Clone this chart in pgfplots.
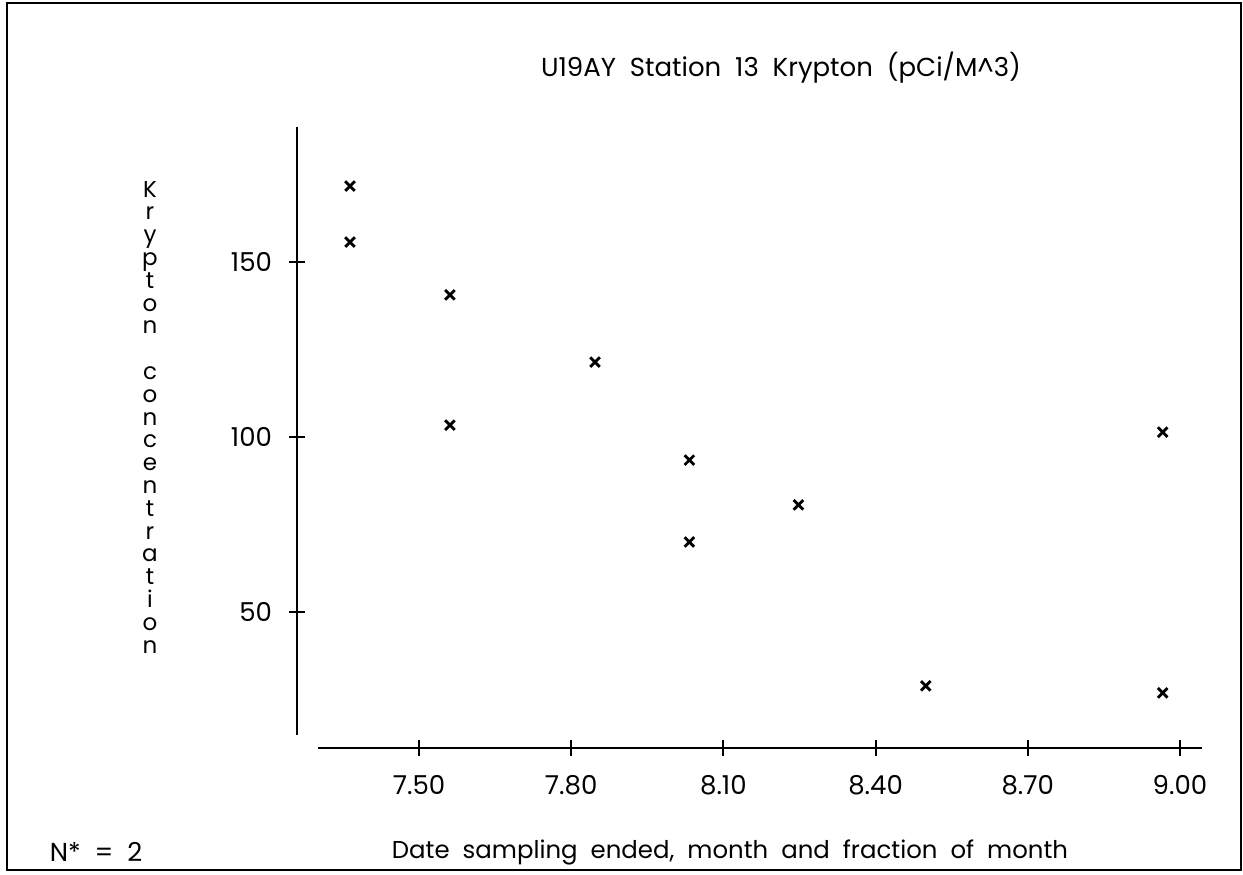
\documentclass[border=0pt]{standalone}
\usepackage{fontspec}
\setmainfont{Poppins}
\usepackage{pgfplots}
\pgfplotsset{compat=1.18}
\begin{document}
\begin{tikzpicture}
\useasboundingbox (0,0) rectangle (621.5pt,437pt);
\draw[line width=0.8pt] (3.5pt,2pt) rectangle (620.5pt,435.5pt);
\begin{axis}[
  at={(148.5pt,63pt)}, anchor=south west,
  scale only axis, width=452.5pt, height=310.5pt,
  xmin=7.2595, xmax=9.0435, ymin=11.14, ymax=188.57,
  axis lines*=left, axis line style={draw=none},
  xtick={7.5,7.8,8.1,8.4,8.7,9.0},
  xticklabels={7.50,7.80,8.10,8.40,8.70,9.00},
  ytick={50,100,150},
  tick align=center, major tick length=8pt,
  tick style={black, line width=1pt},
  /pgf/number format/assume math mode=true,
  tick label style={font=\fontsize{13}{15}\selectfont},
  xticklabel style={yshift=-6pt},
  yticklabel style={xshift=-5pt},
  clip=false,
]
\addplot[only marks, mark=x, mark size=3.4pt, line width=1.4pt, black] coordinates {
  (7.364,171.7) (7.364,155.7)
  (7.561,140.6) (7.561,103.4)
  (7.847,121.4)
  (8.033,93.4) (8.033,70.0)
  (8.248,80.6)
  (8.499,28.9)
  (8.966,101.4) (8.966,26.9)
};
\draw[line width=1pt] (axis cs:7.301,11.14) -- (axis cs:9.0435,11.14);
\draw[line width=1pt] (axis cs:7.2595,188.57) -- (axis cs:7.2595,14.9);
\end{axis}
\node[font=\fontsize{13}{15}\selectfont] at (390.5pt,403pt) {U19AY\ \ Station\ \ 13\ \ Krypton\ \ (pCi/M\^{}3)};
\node[font=\fontsize{11.5}{11.4}\selectfont, align=center, inner sep=0pt] at (75pt,228.5pt)
  {K\\r\\y\\p\\t\\o\\n\\\mbox{}\\c\\o\\n\\c\\e\\n\\t\\r\\a\\t\\i\\o\\n};
\node[font=\fontsize{12.2}{15}\selectfont] at (365pt,11pt) {Date\ \ sampling\ \ ended,\ \ month\ \ and\ \ fraction\ \ of\ \ month};
\node[font=\fontsize{13}{15}\selectfont] at (48pt,11pt) {N*\ \ =\ \ 2};
\end{tikzpicture}
\end{document}
